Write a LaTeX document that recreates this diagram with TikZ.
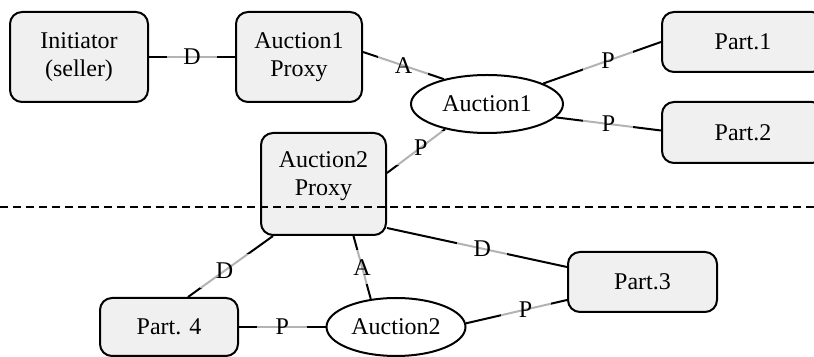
\documentclass[tikz,border=0pt]{standalone}
\usepackage{fontspec}
\setmainfont{Liberation Serif}
\usetikzlibrary{shapes.geometric,calc}
\definecolor{boxgray}{HTML}{F0F0F0}
\begin{document}
\begin{tikzpicture}[x=0.5pt,y=-0.5pt,
  font=\fontsize{12}{14}\selectfont,
  box/.style={draw,line width=1pt,fill=boxgray,rounded corners=6pt,align=center,inner sep=0pt},
  oval/.style={draw,ellipse,line width=1pt,fill=white,inner sep=0pt},
  link/.style={line width=1pt},
  tag/.style={fill=white,fill opacity=0.7,text opacity=1,minimum width=25pt,minimum height=17pt,inner sep=0pt},
  cut/.style={line width=1pt,dash pattern=on 4pt off 2.5pt}]
\useasboundingbox (0,0) rectangle (814,357);

% upper domain
\node[box,minimum width=69pt,minimum height=45pt] (ini) at (79,57) {Initiator\\(seller)};
\node[box,minimum width=63pt,minimum height=45pt] (a1p) at (299,57) {Auction1\\Proxy};
\node[oval,minimum width=76pt,minimum height=29pt] (a1) at (487,104) {Auction1};
\node[box,minimum width=81pt,minimum height=30pt] (p1) at (743,42) {Part.1};
\node[box,minimum width=81pt,minimum height=30.5pt] (p2) at (743,132.5) {Part.2};

% bridging proxy
\node[box,minimum width=62.5pt,minimum height=51pt] (a2p) at (323.5,184) {};
\node[align=center,inner sep=0pt] (a2pt) at (323.5,176) {Auction2\\Proxy};

% lower domain
\node[box,minimum width=74.5pt,minimum height=30pt] (p3) at (642.5,282) {Part.3};
\node[box,minimum width=69pt,minimum height=29pt] (p4) at (169,327) {Part. 4};
\node[oval,minimum width=69.5pt,minimum height=29pt] (a2) at (396,327) {Auction2};

% domain boundary
\coordinate (cutl) at (0,207);
\coordinate (cutr) at (814,207);
\draw[cut] (cutl) -- (cutr);

% connectors
\draw[link] (ini.east) -- node[tag]{D} (a1p.west);
\draw[link] ($(a1p.east)+(0,-5)$) -- node[tag]{A} (a1.150);
\draw[link] (a1.20) -- node[tag,pos=0.55]{P} (p1.west);
\draw[link] (a1.-11) -- node[tag]{P} ($(p2.west)+(0,-2)$);
\draw[link] (a1.211) -- node[tag,pos=0.42]{P} ($(a2p.east)+(0,-11)$);
\draw[link] ($(a2p.south west)+(13,0)$) -- node[tag,pos=0.57]{D} ($(p4.north)+(19,0)$);
\draw[link] ($(a2p.south)+(30,0)$) -- node[tag]{A} (a2.132);
\draw[link] ($(a2p.south east)+(0,-8)$) -- node[tag,pos=0.53]{D} ($(p3.west)+(0,-15)$);
\draw[link] (a2.3) -- node[tag,pos=0.59]{P} ($(p3.west)+(0,18)$);
\draw[link] (p4.east) -- node[tag]{P} (a2.west);
\end{tikzpicture}
\end{document}
